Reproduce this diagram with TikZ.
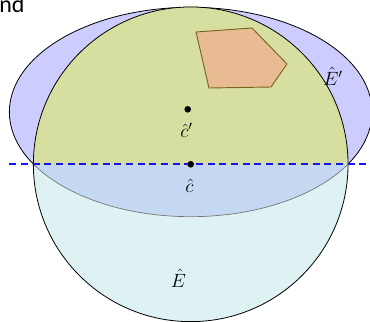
\documentclass[tikz,border=0pt]{standalone}
\usepackage{fontspec}
\newfontfamily\labfont{Carlito}
\definecolor{lav}{RGB}{204,204,255}
\definecolor{lowcyan}{RGB}{222,242,244}
\definecolor{lowblue}{RGB}{197,216,241}
\definecolor{upyel}{RGB}{215,223,160}
\definecolor{polyfill}{RGB}{233,187,146}
\definecolor{polydraw}{RGB}{120,100,30}
\definecolor{cutblue}{RGB}{20,20,235}
\begin{document}
\begin{tikzpicture}[x=0.75pt,y=-0.75pt,
  edge/.style={draw=black,line width=0.6pt},
  faint/.style={draw=black!55,line width=0.5pt},
  dot/.style={circle,fill=black,inner sep=0pt,minimum size=5pt},
  lab/.style={font=\fontsize{14}{16}\selectfont,inner sep=1pt},
  poly/.style={fill=polyfill,draw=polydraw,line width=0.7pt,line join=round},
  cut/.style={draw=cutblue,line width=1.3pt,dash pattern=on 5.25pt off 3.5pt}]
\useasboundingbox (0,0) rectangle (370,321);
\coordinate (c) at (190.7,164.3);
\coordinate (cp) at (190.7,112);
% ellipse E'
\fill[lav] (cp) ellipse [x radius=136pt, y radius=78.5pt];
\draw[edge] (cp) ellipse [x radius=136pt, y radius=78.5pt];
% lower half of ball
\begin{scope}
  \clip (0,164.3) rectangle (370,330);
  \fill[lowcyan] (c) circle [radius=118pt];
  \clip (cp) ellipse [x radius=136pt, y radius=78.5pt];
  \fill[lowblue] (c) circle [radius=118pt];
\end{scope}
\begin{scope}
  \clip (0,164.3) rectangle (370,330);
  \clip (c) circle [radius=118pt];
  \draw[faint] (cp) ellipse [x radius=136pt, y radius=78.5pt];
\end{scope}
% upper half of ball
\begin{scope}
  \clip (0,-10) rectangle (370,164.3);
  \fill[upyel] (c) circle [radius=118pt];
\end{scope}
\draw[edge] (c) circle [radius=118pt];
% polygon
\draw[poly] (196,32) -- (252,28) -- (287,64) -- (271,87) -- (209,88) -- cycle;
% cut line
\coordinate (cl) at (9.4,164.3);
\coordinate (cr) at (372,164.3);
\draw[cut] (cl) -- (cr);
% centers
\node[dot] (dcp) at (187.7,109.3) {};
\node[dot] (dc) at (190.7,164.3) {};
\node[lab] (lcp) at (186.5,130.5) {$\hat{c}'$};
\node[lab] (lc) at (189.5,185.5) {$\hat{c}$};
\node[lab] (lE) at (178.5,278.5) {$\hat{E}$};
\node[lab] (lEp) at (333,76) {$\hat{E}'$};
% cropped text
\node[anchor=base west,inner sep=0pt,font=\labfont\fontsize{18}{20}\selectfont] (and) at (-1,13) {\llap{a}nd};
\end{tikzpicture}
\end{document}
